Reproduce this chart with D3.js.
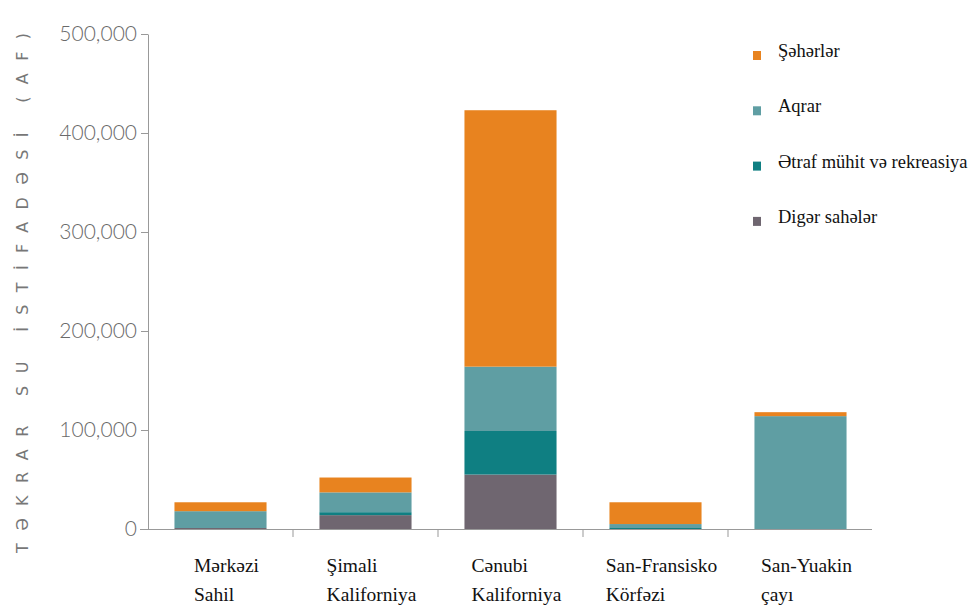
<!DOCTYPE html>
<html>
<head>
<meta charset="utf-8">
<script src="https://cdn.jsdelivr.net/npm/d3@7"></script>
</head>
<body style="margin:0">
<script>
// regions (two-line labels)
var regions = ["Mərkəzi Sahil", "Şimali Kaliforniya", "Cənubi Kaliforniya", "San-Fransisko Körfəzi", "San-Yuakin çayı"];
var labelLines = [["Mərkəzi", "Sahil"], ["Şimali", "Kaliforniya"], ["Cənubi", "Kaliforniya"], ["San-Fransisko", "Körfəzi"], ["San-Yuakin", "çayı"]];

// series, bottom to top
var seriesNames = ["Digər sahələr", "Ətraf mühit və rekreasiya", "Aqrar", "Şəhərlər"];
var diger   = [1000, 14000, 55000, 0, 0];
var etraf   = [0, 3000, 44000, 1000, 0];
var aqrar   = [17000, 20000, 65000, 4000, 114000];
var seherler = [9000, 15000, 259000, 22000, 4000];
var colors = ["#6f6670", "#0f7f82", "#5f9ea3", "#e8831f"];

// legend is listed top to bottom
var legendOrder = ["Şəhərlər", "Aqrar", "Ətraf mühit və rekreasiya", "Digər sahələr"];
var yTicks = [0, 100000, 200000, 300000, 400000, 500000];

var width = 976, height = 611;
var svg = d3.select("body").append("svg").attr("width", width).attr("height", height)
  .style("font-family", "serif");
svg.append("rect").attr("width", width).attr("height", height).attr("fill", "#fff");

var x = d3.scaleBand().domain(regions).range([148, 873]).paddingInner(0.365).paddingOuter(0.1825);
var y = d3.scaleLinear().domain([0, 500000]).range([529, 34]);

var table = regions.map(function(r, i) {
  return { region: r, "Digər sahələr": diger[i], "Ətraf mühit və rekreasiya": etraf[i], "Aqrar": aqrar[i], "Şəhərlər": seherler[i] };
});
var stack = d3.stack().keys(seriesNames)(table);
var color = d3.scaleOrdinal().domain(seriesNames).range(colors);

// bars
svg.append("g").selectAll("g").data(stack).enter().append("g")
  .attr("fill", function(d) { return color(d.key); })
  .selectAll("rect").data(function(d) { return d; }).enter().append("rect")
  .attr("x", function(d) { return x(d.data.region); })
  .attr("width", x.bandwidth())
  .attr("y", function(d) { return y(d[1]); })
  .attr("height", function(d) { return y(d[0]) - y(d[1]); });

// y axis
var yAxis = svg.append("g").attr("transform", "translate(148,0)")
  .call(d3.axisLeft(y).tickValues(yTicks).tickFormat(d3.format(",")).tickSizeInner(7).tickSizeOuter(0).tickPadding(4));
yAxis.attr("font-family", null).attr("font-size", null);
yAxis.select(".domain").attr("stroke", "#999");
yAxis.selectAll(".tick line").attr("stroke", "#999");
yAxis.selectAll("text").style("font-family", "Lato").style("font-size", "21px")
  .attr("font-weight", 300).attr("fill", "#6a6a6a");

// x axis line and ticks between bands
svg.append("line").attr("x1", 140).attr("x2", 872).attr("y1", 529.5).attr("y2", 529.5).attr("stroke", "#999");
svg.append("g").selectAll("line").data(regions.slice(1)).enter().append("line")
  .attr("x1", function(d) { return x(d) - x.step() * x.paddingInner() / 2; })
  .attr("x2", function(d) { return x(d) - x.step() * x.paddingInner() / 2; })
  .attr("y1", 529).attr("y2", 537).attr("stroke", "#999");

// x labels, one text per line
labelLines.forEach(function(lines, i) {
  var texts = lines.map(function(s, k) {
    return svg.append("text").attr("y", 572 + k * 29)
      .style("font-family", "serif").style("font-size", "19.5px").attr("fill", "#111")
      .text(s);
  });
  var w = d3.max(texts, function(t) { return t.node().getComputedTextLength(); });
  var x0 = x(regions[i]) + x.bandwidth() / 2 - w / 2 + 6;
  texts.forEach(function(t) { t.attr("x", x0); });
});

// legend
legendOrder.forEach(function(name, i) {
  var yy = 57 + i * 55.3;
  svg.append("rect").attr("x", 753).attr("y", yy - 6).attr("width", 8).attr("height", 9).attr("fill", color(name));
  svg.append("text").attr("x", 778).attr("y", yy)
    .style("font-family", "serif").style("font-size", "18.5px").attr("fill", "#111")
    .text(name);
});

// y title
svg.append("text").attr("transform", "translate(28,293) rotate(-90)")
  .attr("text-anchor", "middle")
  .style("font-family", "DejaVu Sans").style("font-size", "16px").attr("fill", "#777")
  .attr("textLength", 520).attr("lengthAdjust", "spacing")
  .text("TƏKRAR SU İSTİFADƏSİ (AF)");
</script>
</body>
</html>
